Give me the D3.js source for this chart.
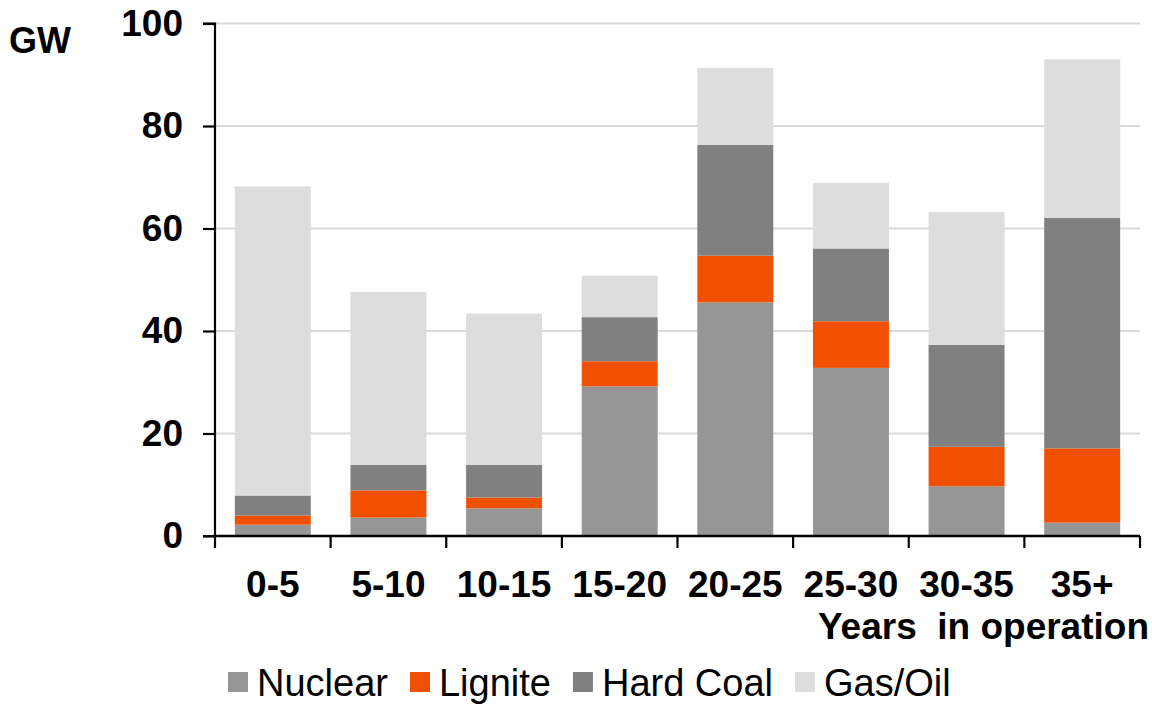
<!DOCTYPE html>
<html>
<head>
<meta charset="utf-8">
<script src="https://cdn.jsdelivr.net/npm/d3@7"></script>
<style>
  html, body { margin: 0; padding: 0; background: #fff; }
  svg { display: block; font-family: "Liberation Sans", Arial, sans-serif; }
</style>
</head>
<body>
<svg id="chart" width="1152" height="704"></svg>
<script>
// Installed capacity by age of plant (GW)
const categories = ["0-5", "5-10", "10-15", "15-20", "20-25", "25-30", "30-35", "35+"];
const nuclear  = [2.2, 3.6, 5.4, 29.2, 45.6, 32.8, 9.7, 2.6];
const lignite  = [1.8, 5.3, 2.1, 4.9, 9.1, 9.1, 7.7, 14.5];
const hardCoal = [3.9, 5.0, 6.4, 8.6, 21.6, 14.2, 19.9, 45.0];
const gasOil   = [60.3, 33.7, 29.5, 8.1, 15.0, 12.8, 25.9, 30.9];
const seriesNames = ["Nuclear", "Lignite", "Hard Coal", "Gas/Oil"];
const seriesColors = ["#969696", "#f05000", "#808080", "#dddddd"];
const yTicks = [0, 20, 40, 60, 80, 100];

const rows = categories.map((c, i) => ({
  cat: c,
  "Nuclear": nuclear[i],
  "Lignite": lignite[i],
  "Hard Coal": hardCoal[i],
  "Gas/Oil": gasOil[i]
}));

const svg = d3.select("#chart");
const plotLeft = 215, plotRight = 1140, plotTop = 23.5, plotBottom = 536;

const pad = 0.343;
const x = d3.scaleBand().domain(categories).range([plotLeft, plotRight])
  .paddingInner(pad).paddingOuter(pad / 2);
const y = d3.scaleLinear().domain([0, 100]).range([plotBottom, plotTop]);
const color = d3.scaleOrdinal().domain(seriesNames).range(seriesColors);

// gridlines
svg.append("g")
  .selectAll("line")
  .data(yTicks.filter(d => d > 0))
  .join("line")
  .attr("x1", plotLeft).attr("x2", plotRight)
  .attr("y1", d => y(d)).attr("y2", d => y(d))
  .attr("stroke", "#dadada").attr("stroke-width", 2);

// stacked bars
const stacked = d3.stack().keys(seriesNames)(rows);
svg.append("g")
  .selectAll("g")
  .data(stacked)
  .join("g")
  .attr("fill", d => color(d.key))
  .selectAll("rect")
  .data(d => d)
  .join("rect")
  .attr("x", d => x(d.data.cat))
  .attr("width", x.bandwidth())
  .attr("y", d => y(d[1]))
  .attr("height", d => y(d[0]) - y(d[1]));

// y axis
const yAxis = svg.append("g")
  .attr("transform", `translate(${plotLeft},0)`)
  .call(d3.axisLeft(y).tickValues(yTicks).tickSize(12).tickPadding(20));
yAxis.select(".domain").attr("stroke", "#000").attr("stroke-width", 2.2)
  .attr("d", `M-12,${y(100)}H0V${plotBottom}H-12`);
yAxis.selectAll(".tick line").attr("stroke", "#000").attr("stroke-width", 2.2);
yAxis.selectAll(".tick text")
  .attr("font-size", 37).attr("font-weight", "bold").attr("fill", "#000")
  .attr("font-family", "Liberation Sans, Arial, sans-serif");

// x axis with ticks at category boundaries
const step = x.step();
const boundaries = d3.range(categories.length + 1).map(i => plotLeft + i * step);
const xAxis = svg.append("g");
xAxis.append("line")
  .attr("x1", plotLeft).attr("x2", plotRight)
  .attr("y1", plotBottom).attr("y2", plotBottom)
  .attr("stroke", "#000").attr("stroke-width", 2.5);
xAxis.selectAll("line.tick")
  .data(boundaries)
  .join("line")
  .attr("class", "tick")
  .attr("x1", d => d).attr("x2", d => d)
  .attr("y1", plotBottom).attr("y2", plotBottom + 12)
  .attr("stroke", "#000").attr("stroke-width", 2.2);
xAxis.selectAll("text")
  .data(categories)
  .join("text")
  .attr("x", d => x(d) + x.bandwidth() / 2)
  .attr("y", 597)
  .attr("text-anchor", "middle")
  .attr("font-size", 37).attr("font-weight", "bold")
  .text(d => d);

// unit and axis title
svg.append("text")
  .attr("x", 9).attr("y", 53)
  .attr("font-size", 36).attr("font-weight", "bold")
  .text("GW");
svg.append("text")
  .attr("x", 1149).attr("y", 639)
  .attr("text-anchor", "end")
  .attr("font-size", 37).attr("font-weight", "bold")
  .attr("xml:space", "preserve")
  .style("white-space", "pre")
  .text("Years  in operation");

// legend
const legend = svg.append("g");
let lx = 228;
seriesNames.forEach(name => {
  legend.append("rect")
    .attr("x", lx).attr("y", 672)
    .attr("width", 20).attr("height", 20)
    .attr("fill", color(name));
  const t = legend.append("text")
    .attr("x", lx + 29).attr("y", 696)
    .attr("font-size", 38)
    .text(name);
  lx += 29 + t.node().getComputedTextLength() + 22;
});
</script>
</body>
</html>
